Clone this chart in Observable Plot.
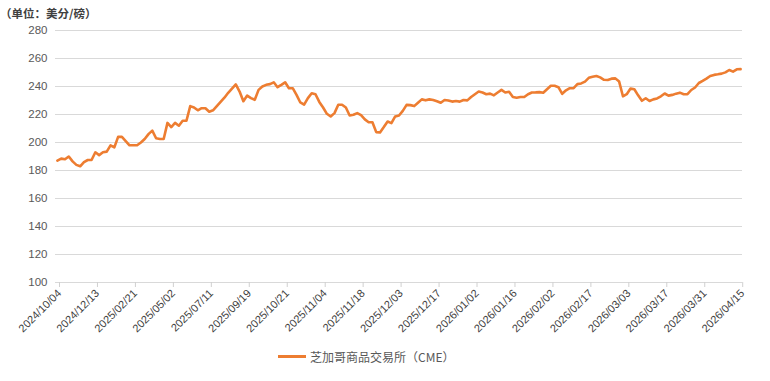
<!DOCTYPE html>
<html>
<head>
<meta charset="utf-8">
<script src="https://cdn.jsdelivr.net/npm/d3@7"></script>
<script src="https://cdn.jsdelivr.net/npm/@observablehq/plot@0.6"></script>
<style>
  html, body { margin: 0; padding: 0; background: #fff; }
  #wrap { position: relative; width: 770px; height: 381px; font-family: "Liberation Sans", Arial, "Noto Sans CJK SC", sans-serif; }
  #title { position: absolute; left: 0; top: 5px; font-size: 11.5px; font-weight: bold; color: #404040; font-family: "Noto Sans CJK SC", sans-serif; }
  #legend { display: flex; align-items: center; height: 26px; padding-left: 278px; font-size: 12px; color: #595959; font-family: "Noto Sans CJK SC", sans-serif; }
  #legend .sw { width: 28px; height: 3px; background: #ED7D31; margin-right: 4px; }
</style>
</head>
<body>
<div id="wrap">
  <div id="chart"></div>
  <div id="title"></div>
  <div id="legend"><span class="sw"></span><span id="legtext"></span></div>
</div>
<script>
const titleText = "（单位：美分/磅）";
const seriesName = "芝加哥商品交易所（CME）";
const tickLabels = ["2024/10/04","2024/12/13","2025/02/21","2025/05/02","2025/07/11","2025/09/19","2025/10/21","2025/11/04","2025/11/18","2025/12/03","2025/12/17","2026/01/02","2026/01/16","2026/02/02","2026/02/17","2026/03/03","2026/03/17","2026/03/31","2026/04/15"];
const tickIndex = [0,10,20,30,40,50,60,70,80,90,100,110,120,130,140,150,160,170,180];
const yTicks = [100,120,140,160,180,200,220,240,260,280];
const values = [
  187,188.5,188,190,186.5,184,183,186,187.5,187.5,
  193,191,193,193.5,198,196.5,204,204,201,198,
  198,198,200,202.5,206,208.5,203,202.5,202.5,214,
  211,214,212,215.5,215.5,226,225,223,224.5,224.5,
  222,223,226,229,232,235.5,238.5,241.5,236.4,229.5,
  233.5,231.7,230.5,237.6,240,241.2,241.7,243,239.5,241.2,
  243,238.8,238.8,234,228.6,227,231.7,235.2,234.5,229,
  225,220.5,218.6,221,227,227,225,219.3,219.8,221,
  219.5,216.5,214.5,214.5,207.4,207.2,211,215,213.8,218.6,
  219.3,222.6,226.9,226.7,226,228.4,230.8,230.1,230.8,230.4,
  229.5,228.4,230.4,230,229.2,229.6,229.2,230.4,230.1,232.5,
  234.5,236.4,235.7,234.5,234.9,233.7,235.7,237.6,235.7,236.2,
  232.5,232,232.5,232.5,234.5,235.7,235.8,236,235.5,238,
  240.5,240.5,239.5,234.8,237.3,238.8,238.8,241.7,242.2,243.5,
  246.2,247,247.5,246.5,244.8,244.6,245.6,245.8,243.5,233,
  234.5,238.5,238,233.7,229.8,231.6,229.6,230.8,231.5,233,
  235,233.5,234,234.9,235.6,234.5,234.5,237.5,239.3,242.5,
  244,245.6,247.5,248.3,248.7,249.2,250.1,251.8,250.6,252.3,
  252.4
];

document.getElementById("title").textContent = titleText;
document.getElementById("legtext").textContent = seriesName;

const tickPos = tickIndex.map(i => i - 0.5);
const labelAt = new Map(tickPos.map((p, k) => [p, tickLabels[k]]));

const chart = Plot.plot({
  width: 770,
  height: 343,
  marginLeft: 55,
  marginRight: 28,
  marginTop: 30,
  marginBottom: 61,
  style: { fontFamily: "'Liberation Sans', Arial, sans-serif", fontSize: "11px", color: "#595959", background: "#fff" },
  x: { domain: [-0.5, values.length - 0.5], axis: null },
  y: { domain: [100, 280], axis: null },
  marks: [
    Plot.gridY(yTicks, { stroke: "#d9d9d9", strokeOpacity: 1, strokeWidth: 1 }),
    Plot.axisY(yTicks, { tickSize: 0, tickPadding: 8, fill: "#595959", fontSize: 11.5, label: null }),
    Plot.axisX(tickPos, {
      tickFormat: d => labelAt.get(d),
      tickRotate: -45,
      tickSize: 5,
      tickPadding: 4,
      dx: 4,
      stroke: "#d0d0d0",
      fill: "#404040",
      fontSize: 11,
      label: null
    }),
    Plot.lineY(values, { x: (d, i) => i, y: d => d, stroke: "#ED7D31", strokeWidth: 2.6, strokeLinejoin: "round" })
  ]
});
document.getElementById("chart").appendChild(chart);
</script>
</body>
</html>
